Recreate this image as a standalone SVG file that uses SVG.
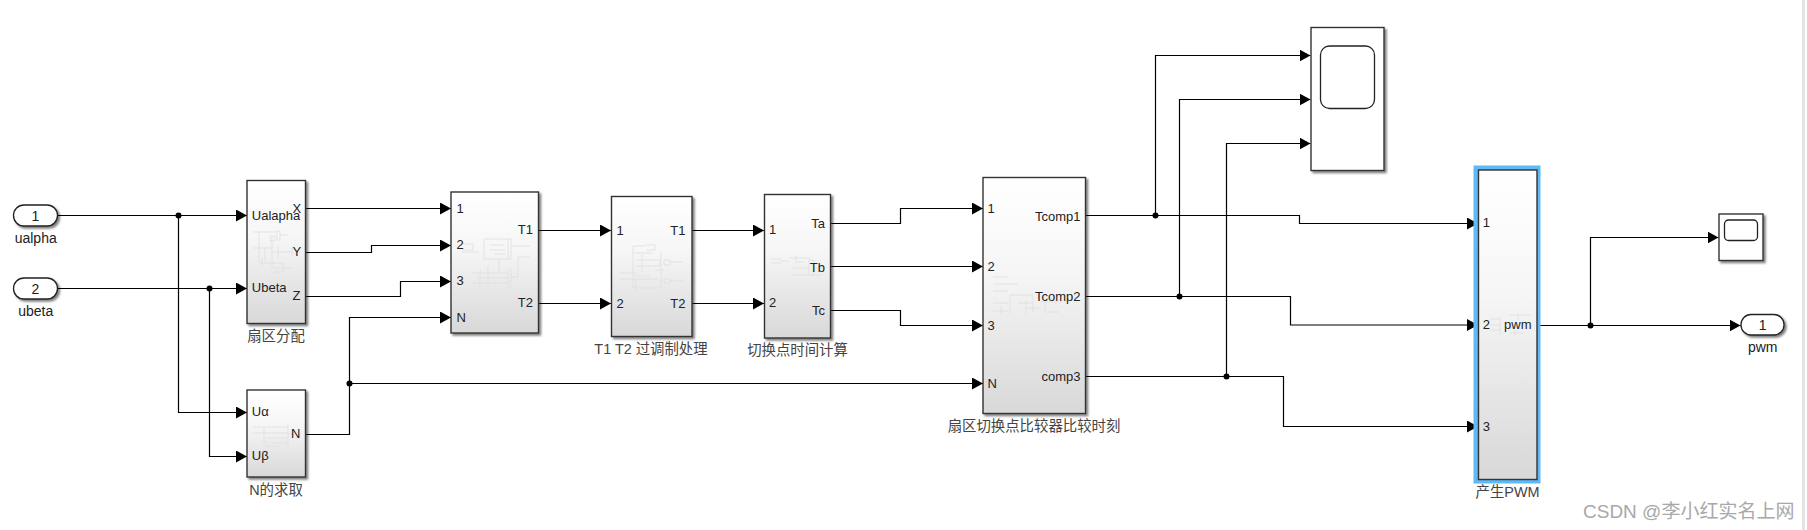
<svg xmlns="http://www.w3.org/2000/svg" width="1807" height="530" viewBox="0 0 1807 530">
<defs>
<linearGradient id="g" x1="0" y1="0" x2="0" y2="1"><stop offset="0" stop-color="#fff"/><stop offset="0.4" stop-color="#f6f6f6"/><stop offset="1" stop-color="#d8d8d8"/></linearGradient>
<filter id="s" x="-20%" y="-20%" width="140%" height="140%"><feDropShadow dx="2" dy="2" stdDeviation="1.3" flood-color="#000" flood-opacity="0.5"/></filter>
<marker id="a" markerUnits="userSpaceOnUse" markerWidth="11" markerHeight="12" refX="11" refY="6" orient="auto"><path d="M0 0L11 6L0 12z" fill="#000"/></marker>
</defs>
<style>
.b{fill:url(#g);stroke:#333;stroke-width:1.4;filter:url(#s)}
.w{fill:#fff;stroke:#333;stroke-width:1.4;filter:url(#s)}
.p{fill:#fff;stroke:#222;stroke-width:1.3;filter:url(#s)}
.i{fill:none;stroke:#222;stroke-width:1.3}
.c path{fill:none;stroke:#000;stroke-width:1.2}
.m{marker-end:url(#a)}
.c circle{fill:#000}
text{font-family:"Liberation Sans","Noto Sans CJK SC",sans-serif;font-size:13px;fill:#222}
.l{font-size:14px}
.n{font-size:14.4px;fill:#444}
.m2{text-anchor:middle}
.e{text-anchor:end}
.t path{fill:none;stroke:#dedede;stroke-width:.8}
</style>
<rect x="1802" y="0" width="3" height="530" fill="#e4e4e4"/>
<g class="c" id="connectors">
<path class="m" d="M58 215.500H247"/>
<path class="m" d="M58 288.500H247"/>
<path class="m" d="M178.500 215.500V412.500H247"/>
<path class="m" d="M209.500 288.500V456.500H247"/>
<path class="m" d="M306 208.500H451"/>
<path class="m" d="M306 252.500H371.500V245.500H451"/>
<path class="m" d="M306 296.500H400.500V281.500H451"/>
<path class="m" d="M306 434.500H349.500V317.500H451"/>
<path class="m" d="M349.500 383.500H983"/>
<path class="m" d="M539 230.500H611"/>
<path class="m" d="M539 303.500H611"/>
<path class="m" d="M692 230.500H764"/>
<path class="m" d="M692 303.500H764"/>
<path class="m" d="M831 223.500H900.500V208.500H983"/>
<path class="m" d="M831 266.500H983"/>
<path class="m" d="M831 310.500H900.500V325.500H983"/>
<path class="m" d="M1086 215.500H1299.500V223.500H1478"/>
<path class="m" d="M1086 296.500H1290.500V325H1478"/>
<path class="m" d="M1086 376.500H1283.500V426.500H1478"/>
<path class="m" d="M1155.500 215.500V55.500H1310.500"/>
<path class="m" d="M1179.500 296.500V99.500H1310.500"/>
<path class="m" d="M1226.500 376.500V143.500H1310.500"/>
<path class="m" d="M1537 325.500H1740.500"/>
<path class="m" d="M1590.500 325.500V237.500H1718.500"/>
<circle cx="178.500" cy="215.500" r="3"/><circle cx="209.500" cy="288.500" r="3"/>
<circle cx="349.500" cy="383.500" r="3"/><circle cx="1155.500" cy="215.500" r="3"/>
<circle cx="1179.500" cy="296.500" r="3"/><circle cx="1226.500" cy="376.500" r="3"/>
<circle cx="1590.500" cy="325.500" r="3"/>
</g>
<g id="in1"><rect class="p" x="13.500" y="205" width="44" height="21" rx="10.500"/><text class="m2 l" x="35.500" y="220.500">1</text><text class="m2 l" x="35.700" y="243">ualpha</text></g>
<g id="in2"><rect class="p" x="13.500" y="278" width="44" height="21" rx="10.500"/><text class="m2 l" x="35.500" y="293.500">2</text><text class="m2 l" x="35.700" y="316">ubeta</text></g>
<g id="sector"><rect class="b" x="247" y="180.500" width="58.500" height="143"/>
<g class="t"><path d="M253 232H277M259 232V263M277 231V240H280V231H277M280 235H288M270 236H275V241H270zM272 237V267M253 248H273M265 248V262M278 246V258M273 252H292M292 248V257M260 263H273M273 263H283V272H273M273 268H283M283 268H292M262 258V266"/></g>
<text x="251.800" y="219.500">Ualapha</text><text x="292.500" y="213">X</text><text x="292.500" y="256">Y</text><text x="292.500" y="300">Z</text><text x="251.800" y="291.500">Ubeta</text>
<text class="n m2" x="276" y="341">扇区分配</text></g>
<g id="nblock"><rect class="b" x="247" y="390" width="58.500" height="87"/>
<g class="t"><path d="M253 427H288M264 427V443M253 433H262M262 433H288M266 438H288M288 424V446M272 443H288M288 434H294M266 441V446H280"/></g>
<text x="251.800" y="416">Uα</text><text x="251.800" y="460">Uβ</text><text x="291" y="438">N</text>
<text class="n m2" x="276" y="495">N的求取</text></g>
<g id="t1t2"><rect class="b" x="451" y="192" width="87.500" height="141"/>
<g class="t"><path d="M462 244H473V250H462M462 252H478M484 239V259H511M484 239H511M490 245H505M490 250H505M495 254H505M508 239V259H511V239M511 246H530M499 259V272M472 273H508M476 278H508M472 283H508M480 270V287M508 268V287H511V268M511 277H518V257H530M488 266V284"/></g>
<text x="456.400" y="212.500">1</text><text x="456.400" y="248.700">2</text><text x="456.400" y="284.700">3</text><text x="456.400" y="322">N</text><text class="e" x="533" y="234">T1</text><text class="e" x="533" y="307">T2</text></g>
<g id="over"><rect class="b" x="611.500" y="196.500" width="80.500" height="140"/>
<g class="t"><path d="M633 246V288H661V252M633 246H646M646 245H655V250H646M633 253H652M636 260H660V266H636M642 254V272M620 273H636V276H650M620 279H636V292M636 279H658M664 260H670V265H664zM670 262H683M664 279H670V283H664zM670 281H683M655 270H664"/></g>
<text x="616.400" y="235">1</text><text x="616.400" y="308">2</text><text class="e" x="685.500" y="235">T1</text><text class="e" x="685.500" y="308">T2</text>
<text class="n m2" x="651" y="354">T1 T2 过调制处理</text></g>
<g id="switch"><rect class="b" x="764.500" y="194.500" width="66" height="143.500"/>
<g class="t"><path d="M771 259H781M771 263H781M789 258H810M796 256V262H804M781 261H789M792 268H809M792 275H822M809 260V275H814V260H809M814 268H822"/></g>
<text x="769" y="234">1</text><text x="769" y="307">2</text><text class="e" x="825" y="227.500">Ta</text><text class="e" x="825" y="271.500">Tb</text><text class="e" x="825" y="314.500">Tc</text>
<text class="n m2" x="797.500" y="355">切换点时间计算</text></g>
<g id="compare"><rect class="b" x="983" y="177.500" width="102.500" height="236"/>
<g class="t"><path d="M993 277H1008M993 284H1018M993 291H1008M993 303H1008M993 311H1008M1001 306V314M1010 295V314M1010 295H1033M1018 303H1033M1026 300V314M1026 308H1040M1033 295V312M1040 302H1062M1045 298V312M1045 312H1060"/></g>
<text x="987.500" y="213">1</text><text x="987.500" y="271">2</text><text x="987.500" y="330">3</text><text x="987.500" y="388">N</text><text class="e" x="1080.500" y="220.500">Tcomp1</text><text class="e" x="1080.500" y="300.500">Tcomp2</text><text class="e" x="1080.500" y="381">comp3</text>
<text class="n m2" x="1034" y="431">扇区切换点比较器比较时刻</text></g>
<g id="scope1"><rect class="w" x="1311" y="27.500" width="73" height="143"/><rect class="i" x="1320.500" y="46" width="54" height="62.500" rx="9"/></g>
<g id="gen"><rect x="1473.500" y="165.500" width="67" height="318" fill="#5fb9f5"/><rect class="b" style="filter:none" x="1478.500" y="170" width="58.500" height="309.500"/>
<g class="t"><path d="M1490 319H1500M1490 325H1500M1490 330H1500M1500 317V334M1510 315H1530M1518 313V320M1510 333H1523M1515 330V336"/></g>
<text x="1482.700" y="227">1</text><text x="1482.700" y="329">2</text><text x="1482.700" y="431">3</text><text class="e" x="1531.500" y="328.500">pwm</text>
<text class="n m2" x="1507.500" y="497">产生PWM</text></g>
<g id="scope2"><rect class="w" x="1719" y="214" width="44" height="46.500"/><rect class="i" x="1724.500" y="220" width="33" height="20.500" rx="4"/></g>
<g id="out1"><rect class="p" x="1741" y="314.500" width="43" height="20.500" rx="10"/><text class="m2 l" x="1762.700" y="330">1</text><text class="m2 l" x="1762.700" y="352">pwm</text></g>
<text x="1583" y="518" style="font-size:19px;fill:#a8a8a8">CSDN @李小红实名上网</text>
</svg>
